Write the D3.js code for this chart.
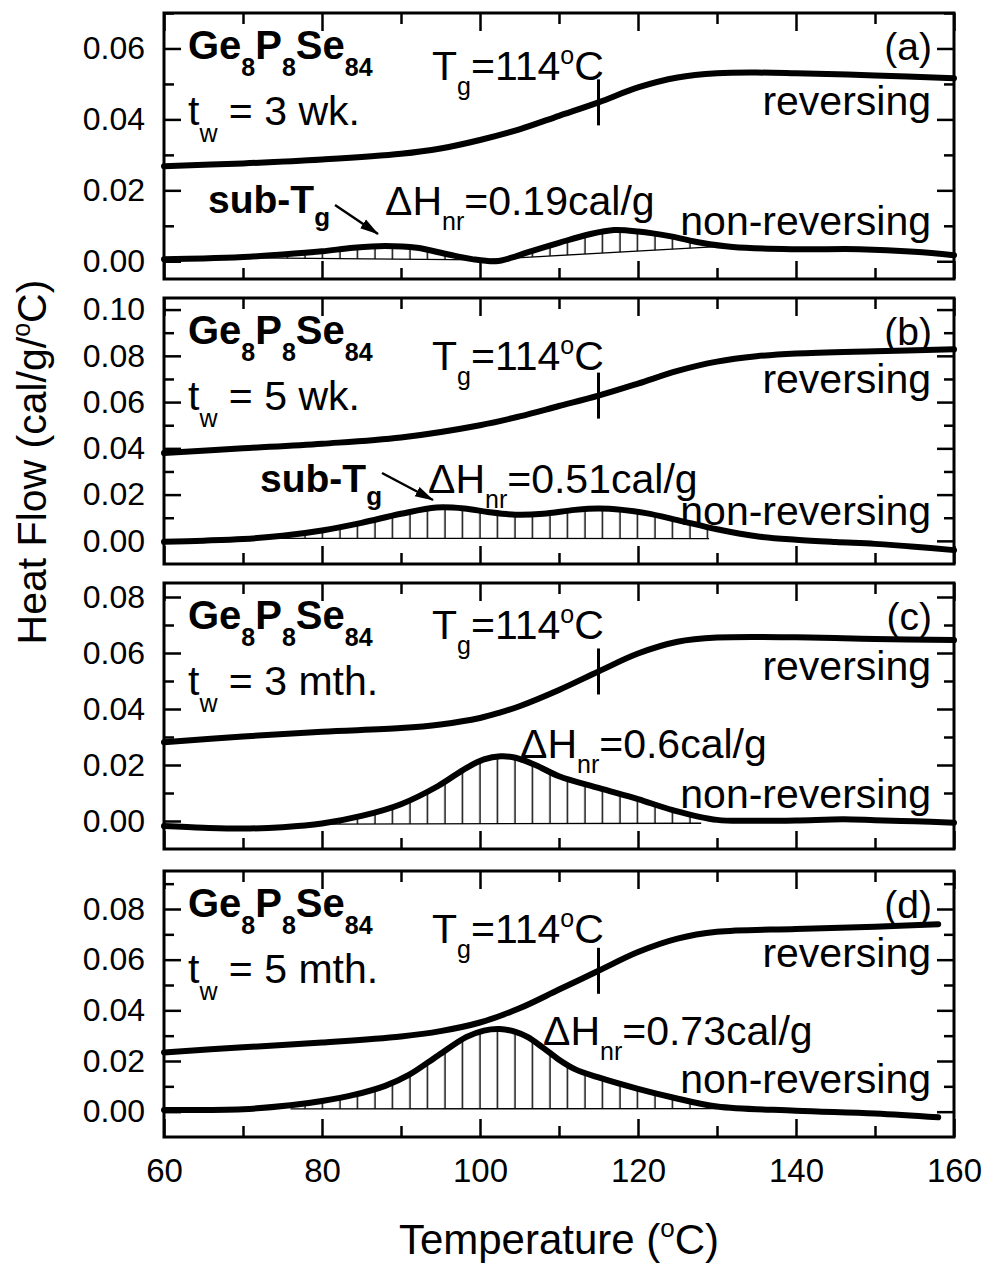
<!DOCTYPE html>
<html lang="en">
<head>
<meta charset="UTF-8">
<title>Ge8P8Se84 heat flow</title>
<script src="https://cdn.jsdelivr.net/npm/d3@7"></script>
<style>
  body { margin: 0; background: #fff; }
  text { font-family: "Liberation Sans", Arial, Helvetica, sans-serif; fill: #000; white-space: pre; }
</style>
</head>
<body>
<script>
// ---- data ----
var xTickLabels = [60, 80, 100, 120, 140, 160];
var panelIds = ["(a)", "(b)", "(c)", "(d)"];
var agingTimes = ["3 wk.", "5 wk.", "3 mth.", "5 mth."];
var deltaH = ["0.19", "0.51", "0.6", "0.73"];
var tgMarkT = 115;
var yDomains = [[-0.005, 0.07], [-0.01, 0.105], [-0.01, 0.085], [-0.01, 0.095]];
var yTickLabels = [
  [0, 0.02, 0.04, 0.06],
  [0, 0.02, 0.04, 0.06, 0.08, 0.10],
  [0, 0.02, 0.04, 0.06, 0.08],
  [0, 0.02, 0.04, 0.06, 0.08]
];

// (a) 3 weeks
var revTempA = [60, 70, 80, 90, 95, 100, 105, 110, 115, 120, 125, 130, 135, 140, 150, 160];
var revA     = [0.0268, 0.0276, 0.0287, 0.0303, 0.0318, 0.0342, 0.0372, 0.0410, 0.0448, 0.0490, 0.0518, 0.0530, 0.0532, 0.0530, 0.0524, 0.0516];
var nonTempA = [60, 65, 70, 75, 80, 84, 88, 92, 96, 99, 102, 104, 106, 110, 114, 117, 120, 124, 128, 132, 140, 148, 155, 160];
var nonA     = [0.0006, 0.0008, 0.0012, 0.0019, 0.0028, 0.0038, 0.0043, 0.0038, 0.0019, 0.0006, 0.0000, 0.0010, 0.0025, 0.0052, 0.0077, 0.0088, 0.0084, 0.0071, 0.0052, 0.0040, 0.0034, 0.0034, 0.0027, 0.0017];
var baseTempA = [68, 100, 130];
var baseA     = [0.0010, 0.0004, 0.0041];

// (b) 5 weeks
var revTempB = [60, 70, 80, 90, 100, 105, 110, 115, 120, 125, 130, 135, 140, 150, 160];
var revB     = [0.0380, 0.0400, 0.0420, 0.0447, 0.0500, 0.0538, 0.0583, 0.0628, 0.0680, 0.0735, 0.0775, 0.0798, 0.0810, 0.0820, 0.0828];
var nonTempB = [60, 65, 70, 75, 80, 85, 90, 94.5, 98, 101, 104.5, 108, 112, 115, 118, 121, 125, 130, 135, 140, 145, 150, 155, 160];
var nonB     = [-0.0004, 0.0001, 0.0008, 0.0022, 0.0045, 0.0078, 0.0117, 0.0144, 0.0140, 0.0125, 0.0113, 0.0117, 0.0134, 0.0140, 0.0134, 0.0120, 0.0090, 0.0050, 0.0020, 0.0005, -0.0005, -0.0013, -0.0025, -0.0040];
var baseTempB = [72, 129];
var baseB     = [0.0011, 0.0010];

// (c) 3 months
var revTempC = [60, 70, 80, 90, 95, 100, 102.5, 105, 110, 115, 120, 125, 130, 140, 150, 160];
var revC     = [0.0281, 0.0302, 0.0319, 0.0332, 0.0345, 0.0368, 0.0387, 0.0410, 0.0468, 0.0534, 0.0598, 0.0640, 0.0655, 0.0656, 0.0650, 0.0646];
var nonTempC = [60, 65, 70, 75, 80, 85, 90, 94.7, 98.3, 100.5, 102.6, 104.5, 107, 110, 115, 120, 124.4, 130, 135, 140, 146, 150, 155, 160];
var nonC     = [-0.0018, -0.0024, -0.0027, -0.0022, -0.0009, 0.0018, 0.0060, 0.0125, 0.0190, 0.0220, 0.0231, 0.0226, 0.0200, 0.0160, 0.0118, 0.0078, 0.0039, 0.0004, 0.0001, 0.0002, 0.0006, 0.0003, -0.0001, -0.0006];
var baseTempC = [80.5, 128];
var baseC     = [-0.0011, -0.0008];

// (d) 5 months
var revTempD = [60, 70, 80, 90, 95, 100, 105, 110, 115, 120, 125, 130, 140, 150, 158];
var revD     = [0.0234, 0.0254, 0.0273, 0.0297, 0.0318, 0.0352, 0.0408, 0.0482, 0.0556, 0.0630, 0.0683, 0.0710, 0.0721, 0.0730, 0.0740];
var nonTempD = [60, 70, 76, 80, 84, 88, 91, 94.7, 98.3, 100.5, 102.5, 104.5, 106, 108, 110, 112, 115, 120, 124.4, 130, 140, 150, 158];
var nonD     = [0.0007, 0.0010, 0.0025, 0.0042, 0.0066, 0.0102, 0.0145, 0.0222, 0.0295, 0.0320, 0.0326, 0.0315, 0.0295, 0.0252, 0.0205, 0.0168, 0.0135, 0.0090, 0.0056, 0.0020, 0.0004, -0.0007, -0.0022];
var baseTempD = [76, 130];
var baseD     = [0.0011, 0.0012];

// ---- layout ----
var width = 984, height = 1265;
var left = 164, right = 954;
var rowTop = [13, 298, 583, 871], rowH = 266;
var txt = {
  ge: 46, tw: 112, id: 47,
  tg: [67, 72, 56, 72],
  rev: [102, 95, 97, 96],
  non: [222, 227, 225, 222],
  dh: [202, 195, 175, 174],
  dhX: [385, 428, 520, 543]
};

var panels = [
  { rt: revTempA, rv: revA, nt: nonTempA, nv: nonA, bt: baseTempA, bv: baseA },
  { rt: revTempB, rv: revB, nt: nonTempB, nv: nonB, bt: baseTempB, bv: baseB },
  { rt: revTempC, rv: revC, nt: nonTempC, nv: nonC, bt: baseTempC, bv: baseC },
  { rt: revTempD, rv: revD, nt: nonTempD, nv: nonD, bt: baseTempD, bv: baseD }
];

var svg = d3.select("body").append("svg")
  .attr("width", width).attr("height", height);

var x = d3.scaleLinear().domain([60, 160]).range([left, right]);

var defs = svg.append("defs");
var hatch = defs.append("pattern")
  .attr("id", "hatch")
  .attr("patternUnits", "userSpaceOnUse")
  .attr("x", Math.round(x(100)) - 8).attr("y", 0)
  .attr("width", 17.5).attr("height", 20);
hatch.append("line")
  .attr("x1", 8).attr("x2", 8).attr("y1", 0).attr("y2", 20)
  .attr("stroke", "#000").attr("stroke-width", 1.4);

defs.append("marker")
  .attr("id", "arrow")
  .attr("markerUnits", "userSpaceOnUse")
  .attr("markerWidth", 20).attr("markerHeight", 12)
  .attr("refX", 18).attr("refY", 6)
  .attr("orient", "auto")
  .append("path").attr("d", "M0,0.8 L19,6 L0,11.2 Z").attr("fill", "#000");

// text with sub/superscripts
function rich(x0, y0, parts, opt) {
  var t = svg.append("text")
    .attr("x", x0).attr("y", y0)
    .attr("font-size", opt.size)
    .attr("font-weight", opt.bold ? "bold" : "normal")
    .attr("text-anchor", opt.anchor || "start");
  if (opt.rotate) t.attr("transform", "rotate(-90," + x0 + "," + y0 + ")");
  var shift = 0;
  parts.forEach(function (p) {
    var s = t.append("tspan").text(p[0]);
    var target = p[1] === "sub" ? (opt.sub || 17) : p[1] === "sup" ? -(opt.sup || 16) : 0;
    s.attr("dy", target - shift);
    shift = target;
    if (p[1]) s.attr("font-size", opt.small || 24);
  });
  return t;
}

function interp(ts, vs, t) {
  var i = d3.bisectLeft(ts, t);
  if (ts[i] === t) return vs[i];
  var f = (t - ts[i - 1]) / (ts[i] - ts[i - 1]);
  return vs[i - 1] + f * (vs[i] - vs[i - 1]);
}

var curve = d3.curveCatmullRom.alpha(0.5);

panels.forEach(function (p, k) {
  var top = rowTop[k], bottom = top + rowH;
  var y = d3.scaleLinear().domain(yDomains[k]).range([bottom, top]);

  var nonPts = p.nt.map(function (t, i) { return [t, p.nv[i]]; });
  var revPts = p.rt.map(function (t, i) { return [t, p.rv[i]]; });
  var basePts = p.bt.map(function (t, i) { return [t, p.bv[i]]; });

  // clip: region below non-reversing curve
  defs.append("clipPath").attr("id", "below" + k)
    .append("path")
    .attr("d", d3.area().curve(curve)
      .x(function (d) { return x(d[0]); })
      .y0(bottom + 20)
      .y1(function (d) { return y(d[1]); })(nonPts));

  // hatched area: above baseline, below curve
  svg.append("path")
    .attr("clip-path", "url(#below" + k + ")")
    .attr("fill", "url(#hatch)")
    .attr("d", d3.area()
      .x(function (d) { return x(d[0]); })
      .y0(top)
      .y1(function (d) { return y(d[1]); })(basePts));

  svg.append("path")
    .attr("fill", "none").attr("stroke", "#000").attr("stroke-width", 1.3)
    .attr("d", d3.line()
      .x(function (d) { return x(d[0]); })
      .y(function (d) { return y(d[1]); })(basePts));

  var line = d3.line().curve(curve)
    .x(function (d) { return x(d[0]); })
    .y(function (d) { return y(d[1]); });

  [revPts, nonPts].forEach(function (pts) {
    svg.append("path")
      .attr("fill", "none").attr("stroke", "#000")
      .attr("stroke-width", 6).attr("stroke-linejoin", "round").attr("stroke-linecap", "round")
      .attr("d", line(pts));
  });

  // Tg marker
  var ty = y(interp(p.rt, p.rv, tgMarkT));
  svg.append("line")
    .attr("x1", x(tgMarkT)).attr("x2", x(tgMarkT))
    .attr("y1", ty - 23).attr("y2", ty + 23)
    .attr("stroke", "#000").attr("stroke-width", 3);

  // axes (inward ticks on all sides)
  var yMinor = d3.range(-0.01, yDomains[k][1] + 1e-9, 0.01).filter(function (v) {
    return v > yDomains[k][0] + 1e-9 && yTickLabels[k].every(function (m) { return Math.abs(m - v) > 1e-9; });
  });
  var xMinor = d3.range(70, 160, 20);

  function axis(gen, pos, size, ticks, fmt) {
    var g = svg.append("g").attr("transform", pos)
      .call(gen.tickValues(ticks).tickSize(-size).tickFormat(fmt || ""));
    g.select(".domain").remove();
    g.selectAll(".tick line").attr("stroke", "#000").attr("stroke-width", 2.5);
    return g;
  }

  var gl = axis(d3.axisLeft(y).tickPadding(19), "translate(" + left + ",0)", 17, yTickLabels[k], d3.format(".2f"));
  gl.selectAll("text").attr("font-size", 32).attr("font-family", null);
  axis(d3.axisLeft(y), "translate(" + left + ",0)", 10, yMinor);
  axis(d3.axisRight(y), "translate(" + right + ",0)", 17, yTickLabels[k]);
  axis(d3.axisRight(y), "translate(" + right + ",0)", 10, yMinor);
  axis(d3.axisTop(x), "translate(0," + top + ")", 18, xTickLabels);
  axis(d3.axisTop(x), "translate(0," + top + ")", 11, xMinor);
  var gb = axis(d3.axisBottom(x).tickPadding(22), "translate(0," + bottom + ")", 18, xTickLabels,
    k === 3 ? d3.format("d") : null);
  if (k === 3) gb.selectAll("text").attr("font-size", 33).attr("font-family", null);
  axis(d3.axisBottom(x), "translate(0," + bottom + ")", 11, xMinor);

  svg.append("rect")
    .attr("x", left).attr("y", top).attr("width", right - left).attr("height", rowH)
    .attr("fill", "none").attr("stroke", "#000").attr("stroke-width", 3);

  // annotations
  rich(188, top + txt.ge, [["Ge"], ["8", "sub"], ["P"], ["8", "sub"], ["Se"], ["84", "sub"]], { size: 40, bold: true, small: 25 });
  rich(188, top + txt.tw, [["t"], ["w", "sub"], [" = " + agingTimes[k]]], { size: 41, small: 25 });
  rich(432, top + txt.tg[k], [["T"], ["g", "sub"], ["=114"], ["o", "sup"], ["C"]], { size: 41, small: 25, sub: 15 });
  svg.append("text").attr("x", 932).attr("y", top + txt.id)
    .attr("text-anchor", "end").attr("font-size", 39).text(panelIds[k]);
  svg.append("text").attr("x", 931).attr("y", top + txt.rev[k])
    .attr("text-anchor", "end").attr("font-size", 41).text("reversing");
  svg.append("text").attr("x", 931).attr("y", top + txt.non[k])
    .attr("text-anchor", "end").attr("font-size", 41).text("non-reversing");
  rich(txt.dhX[k], top + txt.dh[k], [["\u0394H"], ["nr", "sub"], ["=" + deltaH[k] + "cal/g"]], { size: 41, small: 25, sub: 15 });
});

// sub-Tg labels with arrows (panels a, b)
rich(208, 213, [["sub-T"], ["g", "sub"]], { size: 39, bold: true, small: 26, sub: 13 });
rich(260, 492, [["sub-T"], ["g", "sub"]], { size: 39, bold: true, small: 26, sub: 13 });
[[335, 205, 378, 234], [382, 473, 433, 500]].forEach(function (a) {
  svg.append("line")
    .attr("x1", a[0]).attr("y1", a[1]).attr("x2", a[2]).attr("y2", a[3])
    .attr("stroke", "#000").attr("stroke-width", 2.5)
    .attr("marker-end", "url(#arrow)");
});

// axis titles
rich(559, 1254, [["Temperature ("], ["o", "sup"], ["C)"]], { size: 42, small: 26, anchor: "middle", sup: 17 });
rich(46, 462, [["Heat Flow (cal/g/"], ["o", "sup"], ["C)"]], { size: 41, small: 25, anchor: "middle", sup: 16, rotate: true });
</script>
</body>
</html>
